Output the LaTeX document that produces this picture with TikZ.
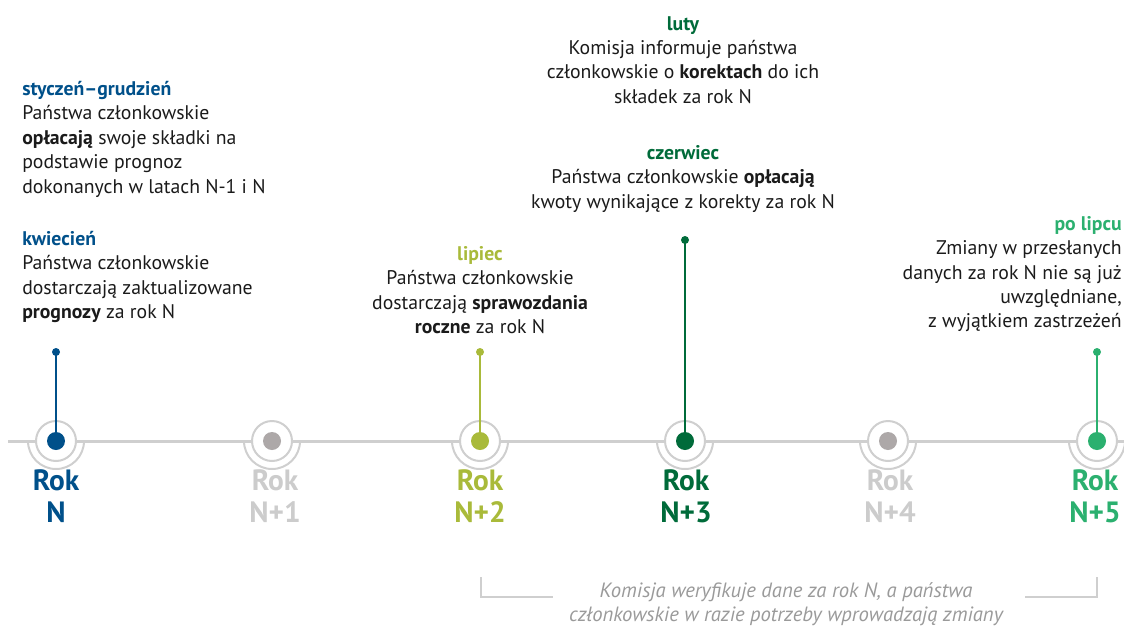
\documentclass[tikz,border=0pt]{standalone}
\usepackage{fontspec}
\setmainfont{PT Sans}
\definecolor{blueN}{HTML}{00508A}
\definecolor{olive}{HTML}{A9BA3A}
\definecolor{dgreen}{HTML}{006B3A}
\definecolor{bgreen}{HTML}{2BB06F}
\definecolor{lgray}{HTML}{CFCFCF}
\definecolor{dgray}{HTML}{ADA8A8}
\definecolor{labgray}{HTML}{CCCCCC}
\definecolor{itgray}{HTML}{9A9A9A}
\definecolor{txt}{HTML}{1A1A1A}
\begin{document}
\begin{tikzpicture}[x=0.75pt,y=-0.75pt,
  body/.style={inner sep=0pt,font=\fontsize{14.8}{18.3}\selectfont,text=txt},
  yearlab/.style={inner sep=0pt,align=center,font=\fontsize{22}{24.5}\selectfont\bfseries},
  ring/.style={circle,draw=lgray,line width=1.5pt,fill=white,minimum size=30pt,inner sep=0pt},
  yeardot/.style={circle,minimum size=13.5pt,inner sep=0pt},
  pindot/.style={circle,minimum size=6pt,inner sep=0pt},
  stem/.style={line width=1.5pt},
  bracket/.style={draw=lgray,line width=1.5pt}
]
\useasboundingbox (0,0) rectangle (1124,628);
\clip (0,0) rectangle (1124,628);
% timeline
\coordinate (tl0) at (8,441);
\coordinate (tl1) at (1130,441);
\draw[lgray,line width=2.25pt] (tl0) -- (tl1);
\foreach \x/\n/\c in {56/0/blueN,272/1/dgray,480/2/olive,685/3/dgreen,888/4/dgray,1097/5/bgreen}{
  \draw[lgray,line width=1.5pt] (\x+28,441) arc (0:180:28);
  \node[ring] (r\n) at (\x,441) {};
  \node[yeardot,fill=\c] (y\n) at (\x,441) {};
}
% stems
\node[pindot,fill=blueN] (p0) at (56,352) {};
\draw[stem,blueN] (p0.center) -- (y0.center);
\node[pindot,fill=olive] (p2) at (480,352) {};
\draw[stem,olive] (p2.center) -- (y2.center);
\node[pindot,fill=dgreen] (p3) at (685,240) {};
\draw[stem,dgreen] (p3.center) -- (y3.center);
\node[pindot,fill=bgreen] (p5) at (1097,352) {};
\draw[stem,bgreen] (p5.center) -- (y5.center);
% year labels
\node[yearlab,text=blueN,anchor=north] (l0) at (56,469) {Rok\\N};
\node[yearlab,text=labgray,anchor=north] (l1) at (275,469) {Rok\\N+1};
\node[yearlab,text=olive,anchor=north] (l2) at (480,469) {Rok\\N+2};
\node[yearlab,text=dgreen,anchor=north] (l3) at (686,469) {Rok\\N+3};
\node[yearlab,text=labgray,anchor=north] (l4) at (890,469) {Rok\\N+4};
\node[yearlab,text=bgreen,anchor=north] (l5) at (1095,469) {Rok\\N+5};
% text blocks
\node[body,align=left,anchor=north west] (t1) at (22,81) {\textcolor{blueN}{\bfseries styczeń–grudzień}\\
Państwa członkowskie\\
\textbf{opłacają} swoje składki na\\
podstawie prognoz\\
dokonanych w latach N-1 i N};
\node[body,align=left,anchor=north west] (t2) at (22,231) {\textcolor{blueN}{\bfseries kwiecień}\\
Państwa członkowskie\\
dostarczają zaktualizowane\\
\textbf{prognozy} za rok N};
\node[body,align=center,anchor=north] (t3) at (480,246) {\textcolor{olive}{\bfseries lipiec}\\
Państwa członkowskie\\
dostarczają \textbf{sprawozdania}\\
\textbf{roczne} za rok N};
\node[body,align=center,anchor=north] (t4) at (683,16) {\textcolor{dgreen}{\bfseries luty}\\
Komisja informuje państwa\\
członkowskie o \textbf{korektach} do ich\\
składek za rok N};
\node[body,align=center,anchor=north] (t5) at (683,145) {\textcolor{dgreen}{\bfseries czerwiec}\\
Państwa członkowskie \textbf{opłacają}\\
kwoty wynikające z korekty za rok N};
\node[body,align=right,anchor=north east] (t6) at (1122,216) {\textcolor{bgreen}{\bfseries po lipcu}\\
Zmiany w przesłanych\\
danych za rok N nie są już\\
uwzględniane,\\
z wyjątkiem zastrzeżeń};
% bottom bracket
\node[inner sep=0pt,align=center,anchor=north,text=itgray,font=\fontsize{15.5}{18}\selectfont\itshape] (t7) at (786,582) {Komisja weryfikuje dane za rok N, a państwa\\
członkowskie w razie potrzeby wprowadzają zmiany};
\coordinate (b1) at (481,577);
\coordinate (b2) at (481,597);
\coordinate (b3) at (553,597);
\coordinate (b4) at (1025,597);
\coordinate (b5) at (1097,597);
\coordinate (b6) at (1097,577);
\draw[bracket] (b1) -- (b2) -- (b3);
\draw[bracket] (b4) -- (b5) -- (b6);
\end{tikzpicture}
\end{document}
